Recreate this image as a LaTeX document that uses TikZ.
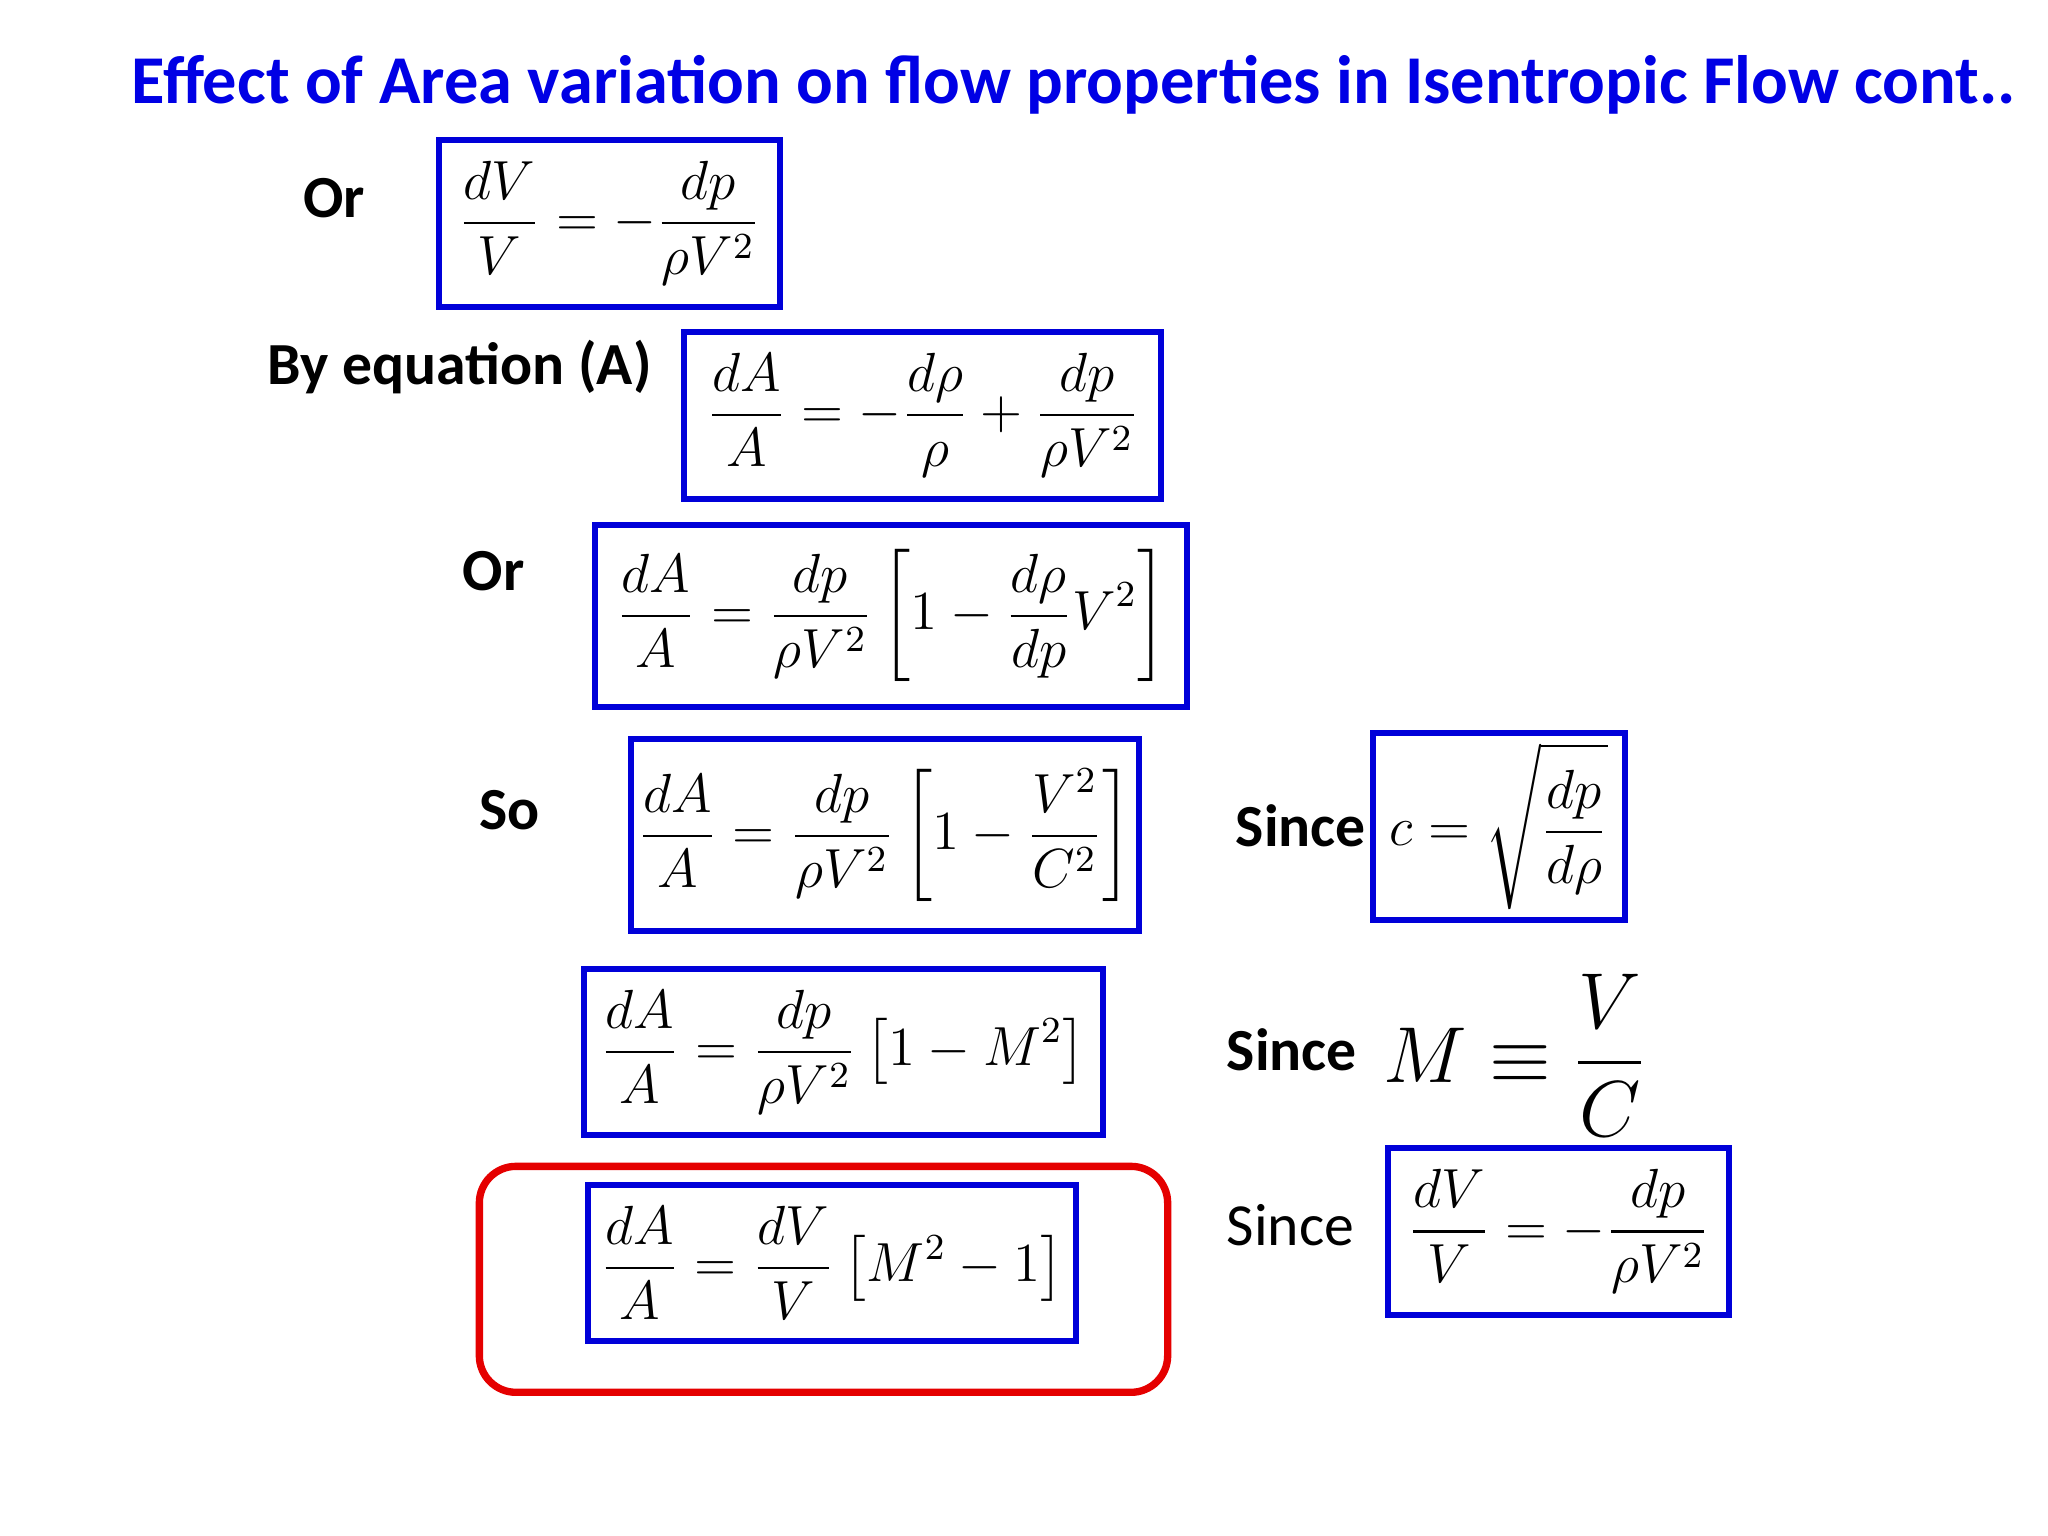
\documentclass[tikz,border=0pt]{standalone}
\usepackage{fontspec}
\setmainfont{Carlito}
\usepackage{amsmath}
\begin{document}
\begin{tikzpicture}[x=0.01cm,y=-0.01cm,
  bx/.style={draw=blue!85!black,line width=1.3pt,inner sep=0pt},
  lbl/.style={font=\fontsize{13}{16}\selectfont\bfseries},
  lbn/.style={font=\fontsize{13}{16}\selectfont},
  eq/.style={font=\fontsize{12}{14}\selectfont}]
\useasboundingbox (0,0) rectangle (1568,1176);
\node[font=\fontsize{14.9}{18}\selectfont\bfseries,text=blue!90!black] (title) at (822,65) {Effect of Area variation on flow properties in Isentropic Flow cont..};
\node[lbl] (l1) at (256,152) {Or};
\node[bx,eq,minimum width=2.61cm,minimum height=1.28cm] (b1) at (466.5,171) {$\displaystyle \frac{dV}{V}=-\frac{dp}{\rho V^2}$};
\node[lbl] (l2) at (352,281) {By equation (A)};
\node[bx,eq,minimum width=3.65cm,minimum height=1.28cm] (b2) at (706.5,318) {$\displaystyle \frac{dA}{A}=-\frac{d\rho}{\rho}+\frac{dp}{\rho V^2}$};
\node[lbl] (l3) at (378,437) {Or};
\node[bx,eq,minimum width=4.53cm,minimum height=1.39cm] (b3) at (682.5,471.5) {$\displaystyle \frac{dA}{A}=\frac{dp}{\rho V^2}\left[1-\frac{d\rho}{dp}V^2\right]$};
\node[lbl] (l4) at (390,620) {So};
\node[bx,eq,minimum width=3.89cm,minimum height=1.47cm] (b4) at (677.5,639.5) {$\displaystyle \frac{dA}{A}=\frac{dp}{\rho V^2}\left[1-\frac{V^2}{C^2}\right]$};
\node[lbl] (l5) at (996,632) {Since};
\node[bx,eq,minimum width=1.93cm,minimum height=1.43cm] (b5) at (1147.5,632.5) {$\displaystyle c=\sqrt{\frac{dp}{d\rho}}$};
\node[bx,eq,minimum width=3.97cm,minimum height=1.27cm] (b6) at (645.5,805.5) {$\displaystyle \frac{dA}{A}=\frac{dp}{\rho V^2}\left[1-M^2\right]$};
\node[lbl] (l7) at (989,804) {Since};
\node[font=\fontsize{16}{19}\selectfont] (m7) at (1160,808) {$\displaystyle M\equiv\frac{V}{C}$};
\draw[red!90!black,line width=1.6pt,rounded corners=0.28cm] (367,893) rectangle (894,1066);
\node[bx,eq,minimum width=3.74cm,minimum height=1.2cm] (b8) at (637,967) {$\displaystyle \frac{dA}{A}=\frac{dV}{V}\left[M^2-1\right]$};
\node[lbn] (l9) at (988,938) {Since};
\node[bx,eq,minimum width=2.61cm,minimum height=1.28cm] (b9) at (1193.5,943) {$\displaystyle \frac{dV}{V}=-\frac{dp}{\rho V^2}$};
\end{tikzpicture}
\end{document}
